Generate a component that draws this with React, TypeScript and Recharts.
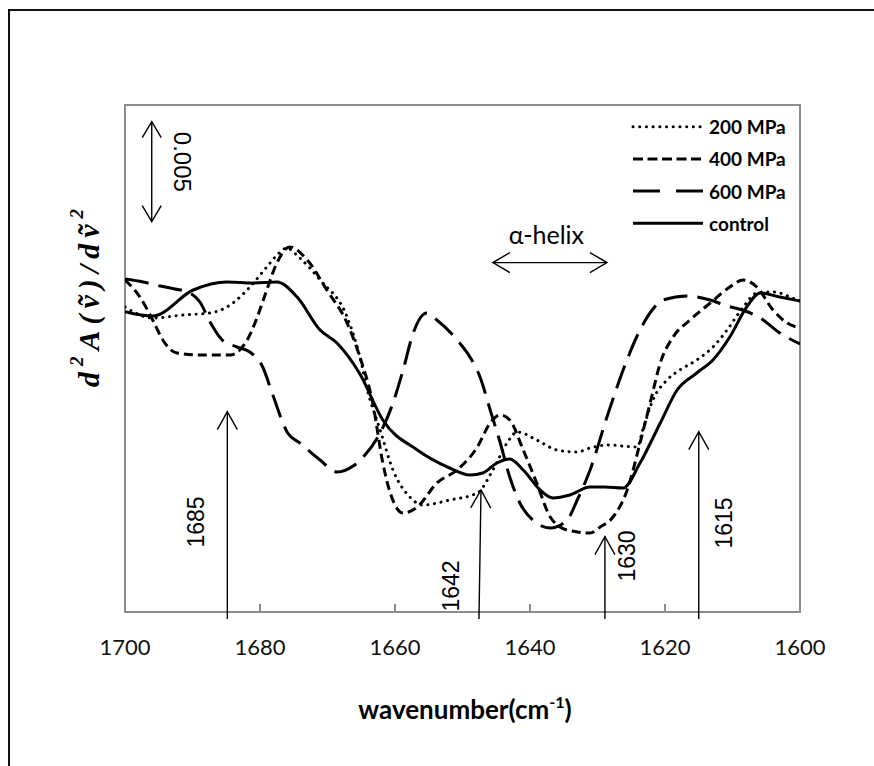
import React from "react";
import { Legend, Line, LineChart, ReferenceArea, ReferenceLine, XAxis, YAxis } from "recharts";

// second-derivative spectra, y in units of 1e-3 (arbitrary offset), x = wavenumber (cm-1)
const wavenumberTicks = [1700, 1680, 1660, 1640, 1620, 1600];

const mpa200: [number, number][] = [
  [1700, 15.25], [1695.9, 14.7], [1691.4, 14.85], [1687.4, 14.95], [1684.0, 15.45], [1681.5, 16.25],
  [1679.0, 17.25], [1677.0, 18.0], [1676.1, 18.2], [1674.1, 17.7], [1671.1, 16.6], [1667.1, 14.75],
  [1665.2, 12.75], [1664.1, 11.1], [1662.2, 9.1], [1660.3, 7.1], [1657.8, 5.75], [1655.9, 5.35],
  [1651.9, 5.6], [1647.8, 5.95], [1645.5, 7.1], [1643.4, 8.45], [1641.9, 9.0], [1639.0, 8.6],
  [1636.0, 8.1], [1633.0, 8.0], [1631.1, 8.2], [1628.6, 8.35], [1624.1, 8.25], [1623.3, 9.1],
  [1621.8, 10.6], [1619.7, 11.6], [1617.8, 12.1], [1615.3, 12.6], [1612.9, 13.25], [1610.8, 14.1],
  [1608.4, 15.25], [1606.4, 15.95], [1604.0, 16.0], [1600.4, 15.6], [1600, 15.55],
];

const mpa400: [number, number][] = [
  [1700, 16.6], [1697.8, 15.75], [1695.9, 14.6], [1694.4, 13.6], [1692.3, 12.95], [1688.9, 12.85],
  [1684.4, 12.85], [1683.0, 13.1], [1681.9, 13.6], [1680.4, 14.75], [1679.0, 16.1], [1677.5, 17.45],
  [1675.6, 18.25], [1673.0, 17.6], [1670.1, 16.1], [1667.1, 14.45], [1665.2, 12.75], [1663.3, 10.45],
  [1661.8, 7.45], [1660.7, 5.95], [1658.8, 4.95], [1656.7, 5.25], [1653.8, 6.45], [1650.8, 7.1],
  [1647.8, 8.25], [1645.9, 9.45], [1644.4, 9.85], [1643.0, 9.6], [1641.0, 8.1], [1639.0, 6.45],
  [1637.0, 4.75], [1634.5, 4.1], [1631.1, 3.95], [1629.6, 4.25], [1627.7, 4.75], [1625.6, 6.1],
  [1623.7, 8.45], [1622.2, 10.45], [1620.7, 12.45], [1618.8, 13.75], [1616.3, 14.6], [1613.3, 15.45],
  [1610.4, 16.25], [1608.4, 16.6], [1606.4, 16.25], [1604.0, 15.1], [1601.9, 14.45], [1600, 14.2],
];

const mpa600: [number, number][] = [
  [1700, 16.65], [1697.3, 16.5], [1694.8, 16.3], [1692.6, 16.15], [1690.4, 15.95], [1688.9, 15.5],
  [1687.4, 14.5], [1685.6, 13.6], [1683.4, 13.25], [1681.5, 13.0], [1679.6, 12.25], [1678.1, 10.85],
  [1675.9, 8.95], [1674.1, 8.45], [1671.1, 7.6], [1668.6, 7.0], [1666.2, 7.3], [1664.7, 7.75],
  [1662.2, 8.95], [1660.3, 10.45], [1658.8, 12.1], [1657.3, 13.95], [1655.9, 14.85], [1655.3, 14.95],
  [1653.8, 14.6], [1650.8, 13.6], [1648.9, 12.75], [1647.4, 11.75], [1645.9, 10.1], [1644.4, 8.45],
  [1643.0, 6.75], [1641.5, 5.45], [1639.6, 4.6], [1637.0, 4.2], [1634.5, 4.6], [1633.0, 5.6],
  [1631.1, 7.1], [1628.6, 9.75], [1626.2, 12.1], [1623.7, 14.1], [1621.9, 15.1], [1620.3, 15.6],
  [1616.7, 15.8], [1613.3, 15.6], [1610.8, 15.3], [1608.1, 15.05], [1605.9, 14.7], [1603.0, 13.95],
  [1600, 13.4],
];

const controlSeries: [number, number][] = [
  [1700, 15.02], [1695.9, 14.8], [1689.9, 16.1], [1684.9, 16.5], [1681.0, 16.45], [1677.5, 16.5],
  [1674.5, 15.75], [1671.1, 14.1], [1668.6, 13.45], [1665.2, 11.9], [1661.8, 9.6], [1656.7, 8.1],
  [1651.9, 7.2], [1648.9, 6.85], [1647.0, 6.95], [1644.9, 7.45], [1643.0, 7.65], [1641.0, 7.1],
  [1638.5, 6.1], [1636.6, 5.7], [1634.1, 5.85], [1631.1, 6.25], [1628.9, 6.25], [1626.2, 6.2],
  [1623.7, 7.45], [1620.7, 9.45], [1618.2, 11.1], [1615.3, 11.95], [1612.9, 12.6], [1610.4, 13.75],
  [1607.9, 15.25], [1605.9, 15.95], [1603.0, 15.75], [1600, 15.55],
];

// band markers: [label, x at tail, x at tip, y at tip]
const bandMarkers: [string, number, number, number][] = [
  ["1685", 1684.84, 1684.84, 10.02],
  ["1642", 1647.56, 1647.26, 6.1],
  ["1630", 1628.9, 1628.9, 3.77],
  ["1615", 1615.0, 1615.0, 9.02],
];
const bandLabelOffsets: [number, number][] = [[-31, -97], [-27.5, -33], [22.5, -63], [25, -96]];

const Y_DOMAIN: [number, number] = [0, 25.35];
const GRAY = "#8c8c8c";
const TICK_FONT = "Lato, 'Open Sans', sans-serif";
const NOTE_FONT = "'Liberation Sans', Arial, sans-serif";

const toRows = (pts: [number, number][]) => pts.map(([wn, v]) => ({ wn, v }));

const seriesList = [
  { name: "200 MPa", data: toRows(mpa200), dash: "0.1 6.6", cap: "round" as const, legendDash: "0.1 6.6" },
  { name: "400 MPa", data: toRows(mpa400), dash: "9 5", cap: "butt" as const, legendDash: "10 4.5" },
  { name: "600 MPa", data: toRows(mpa600), dash: "24 10", cap: "butt" as const, legendDash: "27 16" },
  { name: "control", data: toRows(controlSeries), dash: undefined, cap: "butt" as const, legendDash: undefined },
];

function arrowHead(tx: number, ty: number, fx: number, fy: number, len: number, half: number) {
  const a = Math.atan2(ty - fy, tx - fx);
  const bx = tx - len * Math.cos(a);
  const by = ty - len * Math.sin(a);
  const px = -Math.sin(a) * half;
  const py = Math.cos(a) * half;
  return `M${bx + px},${by + py}L${tx},${ty}L${bx - px},${by - py}`;
}

type NoteOpts = {
  text: string;
  dx: number;
  dy: number;
  rotate: number;
  both?: boolean;
  font?: string;
  size?: number;
  len?: number;
  half?: number;
};

const noteShape = (o: NoteOpts) => (p: any) => {
  const { x1, y1, x2, y2 } = p;
  const len = o.len ?? 18;
  const half = o.half ?? 10;
  const cx = x1 + o.dx;
  const cy = y1 + o.dy;
  return (
    <g>
      <line x1={x1} y1={y1} x2={x2} y2={y2} stroke="#000" strokeWidth={1.4} />
      <path d={arrowHead(x2, y2, x1, y1, len, half)} fill="none" stroke="#000" strokeWidth={1.4} />
      {o.both && (
        <path d={arrowHead(x1, y1, x2, y2, len, half)} fill="none" stroke="#000" strokeWidth={1.4} />
      )}
      <text
        x={cx}
        y={cy}
        textAnchor="middle"
        dominantBaseline="central"
        transform={o.rotate ? `rotate(${o.rotate}, ${cx}, ${cy})` : undefined}
        fontFamily={o.font ?? NOTE_FONT}
        fontSize={o.size ?? 23}
        fill="#000"
      >
        {o.text}
      </text>
    </g>
  );
};

const renderTick = (props: any) => {
  const { x, y, payload } = props;
  const inner = payload.value !== 1700 && payload.value !== 1600;
  return (
    <g>
      {inner && <line x1={x} x2={x} y1={y} y2={y - 8} stroke={GRAY} strokeWidth={2} />}
      <text x={x} y={y + 43} textAnchor="middle" fontFamily={TICK_FONT} fontSize={22} fill="#111">
        {payload.value}
      </text>
    </g>
  );
};

const renderXTitle = () => (
  <text x={465} y={719} textAnchor="middle" fontFamily={TICK_FONT} fontWeight={700} fontSize={26} fill="#000">
    wavenumber(cm
    <tspan fontSize={16} dy={-11}>-1</tspan>
    <tspan dy={11}>)</tspan>
  </text>
);

const renderYTitle = () => (
  <text
    x={88}
    y={295}
    textAnchor="middle"
    dominantBaseline="central"
    transform="rotate(-90, 88, 295)"
    fontFamily="'Liberation Serif', 'DejaVu Serif', serif"
    fontWeight={700}
    fontStyle="italic"
    fontSize={30}
    letterSpacing={6}
    fill="#000"
  >
    d<tspan fontSize={19} dy={-12}>2</tspan>
    <tspan dy={12}>A(ṽ)/d</tspan>ṽ<tspan fontSize={19} dy={-12}>2</tspan>
  </text>
);

const renderLegend = () => (
  <svg width={210} height={130}>
    {seriesList.map((s, i) => {
      const cy = 16.7 + i * 32.2;
      return (
        <g key={s.name}>
          <line
            x1={3}
            x2={73}
            y1={cy}
            y2={cy}
            stroke="#000"
            strokeWidth={3}
            strokeDasharray={s.legendDash}
            strokeLinecap={s.cap}
          />
          <text x={79} y={cy} dominantBaseline="central" fontFamily={TICK_FONT} fontWeight={700} fontSize={19} fill="#000">
            {s.name}
          </text>
        </g>
      );
    })}
  </svg>
);

export default function App() {
  return (
    <div style={{ position: "absolute", left: 0, top: 0, width: 874, height: 766, background: "#fff", overflow: "hidden" }}>
      <div
        style={{
          position: "absolute",
          left: 8,
          top: 9,
          width: 900,
          height: 800,
          borderLeft: "2px solid #111",
          borderTop: "2px solid #111",
        }}
      />
      <LineChart width={874} height={766} margin={{ top: 105, right: 74, bottom: 94, left: 65 }}>
        <XAxis
          dataKey="wn"
          type="number"
          domain={[1600, 1700]}
          reversed
          ticks={wavenumberTicks}
          interval={0}
          allowDataOverflow
          axisLine={false}
          tickLine={false}
          tickSize={0}
          tickMargin={0}
          tick={renderTick}
          height={60}
          label={{ content: renderXTitle }}
        />
        <YAxis
          type="number"
          domain={Y_DOMAIN}
          allowDataOverflow
          width={60}
          axisLine={false}
          tickLine={false}
          tick={false}
          label={{ content: renderYTitle }}
        />
        <ReferenceArea
          x1={1700}
          x2={1600}
          y1={Y_DOMAIN[0]}
          y2={Y_DOMAIN[1]}
          fill="none"
          fillOpacity={0}
          stroke={GRAY}
          strokeWidth={2}
          ifOverflow="visible"
        />
        {seriesList.map((s) => (
          <Line
            key={s.name}
            data={s.data}
            dataKey="v"
            name={s.name}
            type="monotone"
            stroke="#000"
            strokeWidth={3}
            strokeDasharray={s.dash}
            strokeLinecap={s.cap}
            dot={false}
            activeDot={false}
            isAnimationActive={false}
          />
        ))}
        {bandMarkers.map(([label, xTail, xTip, yTip], i) => (
          <ReferenceLine
            key={label}
            segment={[
              { x: xTail, y: -0.35 },
              { x: xTip, y: yTip },
            ]}
            ifOverflow="visible"
            shape={noteShape({ text: label, dx: bandLabelOffsets[i][0], dy: bandLabelOffsets[i][1], rotate: -90 })}
          />
        ))}
        <ReferenceLine
          segment={[
            { x: 1696.04, y: 19.52 },
            { x: 1696.04, y: 24.52 },
          ]}
          ifOverflow="visible"
          shape={noteShape({ text: "0.005", dx: 30.3, dy: -59.7, rotate: 90, both: true, len: 16, half: 9.5, size: 24 })}
        />
        <ReferenceLine
          segment={[
            { x: 1645.5, y: 17.47 },
            { x: 1628.6, y: 17.47 },
          ]}
          ifOverflow="visible"
          shape={noteShape({ text: "α-helix", dx: 53.5, dy: -29, rotate: 0, both: true, font: TICK_FONT, size: 25, len: 17, half: 10 })}
        />
        <Legend
          layout="horizontal"
          verticalAlign="middle"
          align="center"
          content={renderLegend}
          wrapperStyle={{ position: "absolute", left: 630, top: 110, width: 210, height: 130 }}
        />
      </LineChart>
    </div>
  );
}
